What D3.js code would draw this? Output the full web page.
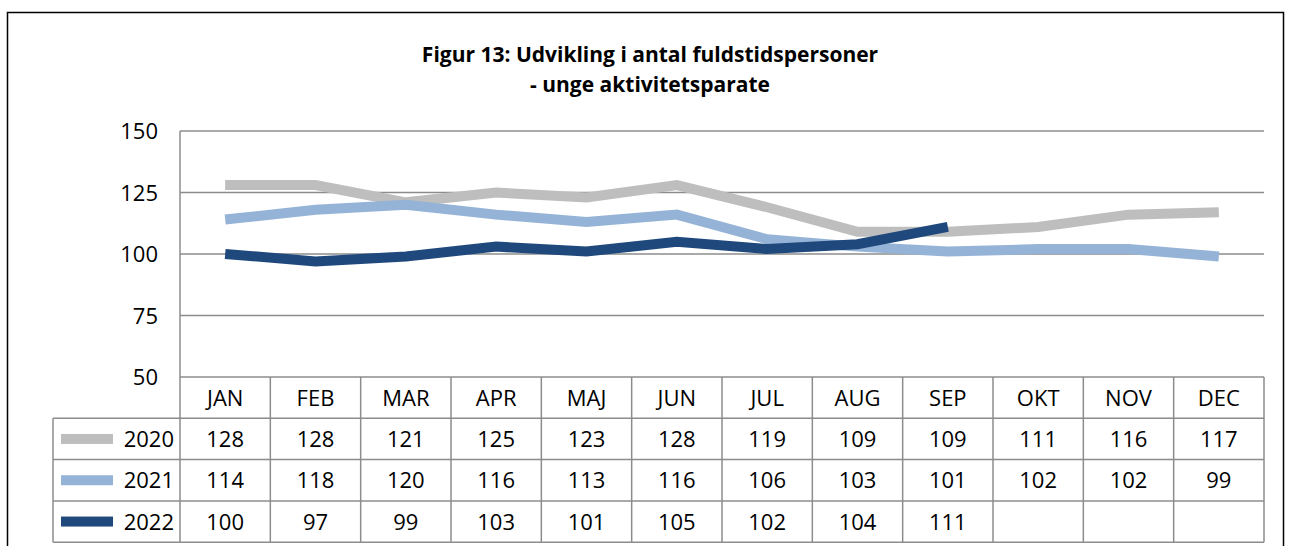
<!DOCTYPE html>
<html>
<head>
<meta charset="utf-8">
<title>Figur 13</title>
<script src="https://d3js.org/d3.v7.min.js"></script>
<style>
  body { margin: 0; background: #fff; }
  text { font-family: "Open Sans", "Noto Sans", sans-serif; fill: #000; }
</style>
</head>
<body>
<script>
  var months = ["JAN", "FEB", "MAR", "APR", "MAJ", "JUN", "JUL", "AUG", "SEP", "OKT", "NOV", "DEC"];
  var years = ["2020", "2021", "2022"];
  var v2020 = [128, 128, 121, 125, 123, 128, 119, 109, 109, 111, 116, 117];
  var v2021 = [114, 118, 120, 116, 113, 116, 106, 103, 101, 102, 102, 99];
  var v2022 = [100, 97, 99, 103, 101, 105, 102, 104, 111];
  var yTicks = [50, 75, 100, 125, 150];
  var colors = ["#bebebe", "#95b3d7", "#1f497d"];
  var series = [v2020, v2021, v2022];

  var width = 1290, height = 546;
  var plotLeft = 180, plotRight = 1264, plotTop = 131, plotBottom = 377;
  var rowH = 41.3;
  var fs = "22px";

  var svg = d3.select("body").append("svg").attr("width", width).attr("height", height);

  // outer frame
  svg.append("rect").attr("x", 7.5).attr("y", 12.5).attr("width", 1276).attr("height", 560)
    .attr("fill", "none").attr("stroke", "#000").attr("stroke-width", 1.5);

  // title
  var title = svg.append("text").attr("text-anchor", "middle")
    .style("font-weight", "bold").style("font-size", "21px");
  title.append("tspan").attr("x", 650).attr("y", 62).text("Figur 13: Udvikling i antal fuldstidspersoner");
  title.append("tspan").attr("x", 650).attr("y", 92).text("- unge aktivitetsparate");

  var x = d3.scaleBand().domain(months).range([plotLeft, plotRight]);
  var y = d3.scaleLinear().domain([50, 150]).range([plotBottom, plotTop]);

  // gridlines
  svg.append("g").selectAll("line").data(yTicks).enter().append("line")
    .attr("x1", plotLeft).attr("x2", plotRight)
    .attr("y1", function(d) { return y(d); }).attr("y2", function(d) { return y(d); })
    .attr("stroke", "#8c8c8c").attr("stroke-width", 1.5);
  svg.append("line").attr("x1", plotLeft).attr("x2", plotLeft).attr("y1", plotTop).attr("y2", plotBottom)
    .attr("stroke", "#8c8c8c").attr("stroke-width", 1.5);

  // y axis labels
  svg.append("g").selectAll("text").data(yTicks).enter().append("text")
    .attr("x", 158).attr("y", function(d) { return y(d) + 8; })
    .attr("text-anchor", "end").style("font-size", fs)
    .text(function(d) { return d; });

  // lines
  var line = d3.line()
    .x(function(d, i) { return x(months[i]) + x.bandwidth() / 2; })
    .y(function(d) { return y(d); });
  series.forEach(function(s, k) {
    svg.append("path").datum(s).attr("d", line)
      .attr("fill", "none").attr("stroke", colors[k]).attr("stroke-width", 10)
      .attr("stroke-linejoin", "miter").attr("stroke-linecap", "butt");
  });

  // data table
  var tableLeft = 53;
  var grid = svg.append("g").attr("stroke", "#8c8c8c").attr("stroke-width", 1.5);
  months.forEach(function(m) {
    grid.append("line").attr("x1", x(m)).attr("x2", x(m))
      .attr("y1", plotBottom).attr("y2", plotBottom + rowH * 4);
  });
  grid.append("line").attr("x1", plotRight).attr("x2", plotRight)
    .attr("y1", plotBottom).attr("y2", plotBottom + rowH * 4);
  grid.append("line").attr("x1", tableLeft).attr("x2", tableLeft)
    .attr("y1", plotBottom + rowH).attr("y2", plotBottom + rowH * 4);
  [1, 2, 3, 4].forEach(function(r) {
    grid.append("line").attr("x1", tableLeft).attr("x2", plotRight)
      .attr("y1", plotBottom + rowH * r).attr("y2", plotBottom + rowH * r);
  });

  svg.append("g").selectAll("text").data(months).enter().append("text")
    .attr("x", function(d) { return x(d) + x.bandwidth() / 2; })
    .attr("y", plotBottom + rowH / 2 + 8)
    .attr("text-anchor", "middle").style("font-size", fs)
    .text(function(d) { return d; });

  series.forEach(function(s, k) {
    var ry = plotBottom + rowH * (k + 1);
    svg.append("rect").attr("x", 61).attr("y", ry + rowH / 2 - 5).attr("width", 52).attr("height", 10)
      .attr("fill", colors[k]);
    svg.append("text").attr("x", 174).attr("y", ry + rowH / 2 + 8)
      .attr("text-anchor", "end").style("font-size", fs).text(years[k]);
    svg.append("g").selectAll("text").data(s).enter().append("text")
      .attr("x", function(d, i) { return x(months[i]) + x.bandwidth() / 2; })
      .attr("y", ry + rowH / 2 + 8)
      .attr("text-anchor", "middle").style("font-size", fs)
      .text(function(d) { return d; });
  });
</script>
</body>
</html>
